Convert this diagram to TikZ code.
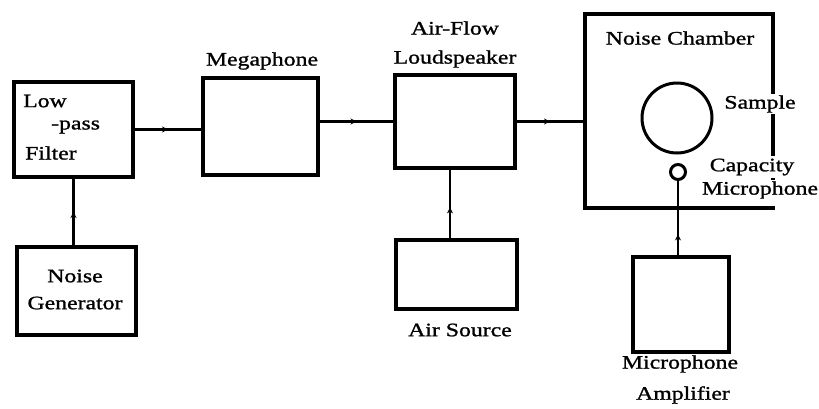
\documentclass[tikz,border=0pt]{standalone}
\usepackage{fontspec}
\setmainfont{Liberation Serif}[FakeStretch=1.25,FakeBold=1.2]
\usetikzlibrary{arrows.meta,decorations.markings}
\begin{document}
\begin{tikzpicture}[x=1pt,y=1pt,
  blk/.style={draw,line width=3.6pt,inner sep=0pt},
  lbl/.style={font=\fontsize{19}{21}\selectfont,inner sep=1pt},
  wlbl/.style={lbl,fill=white},
  conn/.style={line width=2.6pt},
  flow/.style={conn,postaction={decorate},decoration={markings,
     mark=at position #1 with {\arrow{Stealth[length=6pt,width=6pt]}}}},
  flow/.default=0.5]
\useasboundingbox (0,0) rectangle (819,-408);
% boxes
\node[blk,minimum width=119pt,minimum height=95pt] (filter) at (73.5,-129.5) {};
\node[blk,minimum width=115pt,minimum height=97pt] (mega) at (260.5,-126.5) {};
\node[blk,minimum width=120pt,minimum height=93pt] (lsp) at (455,-121.5) {};
\node[blk,minimum width=188pt,minimum height=194pt] (chamber) at (679,-111) {};
\node[blk,minimum width=96pt,minimum height=95pt] (amp) at (681,-304.5) {};
\node[blk,minimum width=121pt,minimum height=69pt] (air) at (456.5,-274.5) {};
\node[blk,minimum width=119pt,minimum height=88pt] (gen) at (76.5,-291) {};
\node[draw,circle,line width=3pt,minimum size=70pt,inner sep=0pt] (sample) at (677,-118) {};
\node[draw,circle,line width=3pt,minimum size=15pt,inner sep=0pt] (mic) at (678,-172) {};
% labels
\node[lbl,anchor=west] (tlow) at (22,-101) {Low};
\node[lbl,anchor=west] (tpass) at (50,-127) {-pass};
\node[lbl,anchor=west] (tfilter) at (24,-153) {Filter};
\node[lbl] (tmega) at (262,-61) {Megaphone};
\node[lbl] (taf) at (455,-28) {Air-Flow};
\node[lbl] (tlsp) at (455,-59) {Loudspeaker};
\node[lbl] (tch) at (680,-38) {Noise Chamber};
\node[wlbl] (tsample) at (760,-104) {Sample};
\node[wlbl,inner sep=3pt] (tcap) at (752,-167) {Capacity};
\node[wlbl,inner xsep=3pt,inner ysep=1pt] (tmic) at (760,-190) {Microphone};
\fill[white] (764,-195) rectangle (782,-205.5);
\node[lbl] (tnoise) at (75,-276) {Noise};
\node[lbl] (tgen) at (75,-303) {Generator};
\node[lbl] (tair) at (460,-330) {Air Source};
\node[lbl] (tmicamp) at (680,-364) {Microphone};
\node[lbl] (tamp) at (683,-395) {Amplifier};
% connectors
\draw[flow] (filter.east) -- (filter.east -| mega.west);
\draw[flow] (mega.east |- lsp.west) -- (lsp.west);
\draw[flow] (lsp.east) -- (lsp.east -| chamber.west);
\draw[flow] (gen.north -| filter.south) -- (filter.south);
\draw[flow=0.45] (air.north -| 450,0) -- (lsp.south -| 450,0);
\draw[flow=0.28] (amp.north -| mic.south) -- (mic.south);
\end{tikzpicture}
\end{document}
